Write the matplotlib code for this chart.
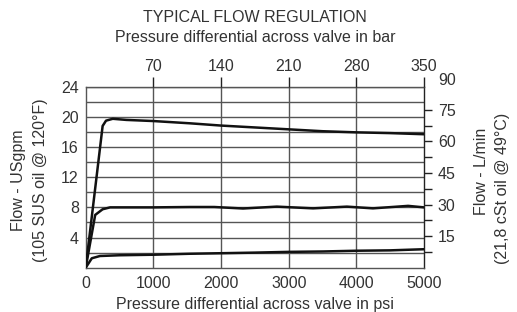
import matplotlib
matplotlib.use("Agg")
import matplotlib.pyplot as plt
import matplotlib.transforms as mtransforms

plt.rcParams['font.family'] = ['Liberation Sans', 'DejaVu Sans']

# --- data (psi, USgpm) ---
high_psi = [0, 250, 300, 400, 600, 1000, 1540, 2000, 2500, 3000, 3500, 4000, 4500, 5000]
high_gpm = [0, 18.8, 19.5, 19.75, 19.6, 19.45, 19.15, 18.85, 18.6, 18.35, 18.1, 17.95, 17.85, 17.7]

mid_psi = [0, 140, 250, 360, 600, 1000, 1540, 1900, 2325, 2825, 3360, 3860, 4245, 4765, 5000]
mid_gpm = [0, 7.0, 7.75, 8.0, 8.0, 8.0, 8.05, 8.05, 7.85, 8.1, 7.87, 8.1, 7.87, 8.2, 8.0]

low_psi = [0, 90, 210, 500, 1000, 1540, 2000, 2500, 3000, 3500, 4000, 4500, 5000]
low_gpm = [0, 1.25, 1.55, 1.65, 1.72, 1.85, 1.92, 2.0, 2.1, 2.15, 2.25, 2.3, 2.45]

psi_ticks = [0, 1000, 2000, 3000, 4000, 5000]
bar_ticks = [70, 140, 210, 280, 350]
gpm_ticks = [4, 8, 12, 16, 20, 24]
gpm_grid = list(range(2, 25, 2))
lpm_major = [15, 30, 45, 60, 75]
lpm_minor = [7.5, 22.5, 37.5, 52.5, 67.5]
lpm_top_label = 90

text_color = '#333333'
grid_color = '#555555'
fs = 11.5

fig = plt.figure(figsize=(5.17, 3.12), dpi=100)
ax = fig.add_axes([0.1658, 0.142, 0.6544, 0.580])

ax.set_xlim(0, 5000)
ax.set_ylim(0, 24)

for v in gpm_grid:
    ax.axhline(v, color=grid_color, lw=1.0, zorder=1)
for v in psi_ticks[1:-1]:
    ax.axvline(v, color=grid_color, lw=1.0, zorder=1)

for xs, ys in [(high_psi, high_gpm), (mid_psi, mid_gpm), (low_psi, low_gpm)]:
    ax.plot(xs, ys, color='#111111', lw=1.8, zorder=3, solid_joinstyle='round')

ax.set_xticks(psi_ticks)
ax.set_xticklabels([str(t) for t in psi_ticks])
ax.set_yticks(gpm_ticks)
ax.set_yticklabels([str(t) for t in gpm_ticks])
ax.tick_params(axis='both', length=0, labelsize=fs, colors=text_color, pad=5)
ax.tick_params(axis='x', pad=6)
for s in ax.spines.values():
    s.set_color(grid_color)
    s.set_linewidth(1.0)
ax.spines['right'].set_color('#222222')

ax.set_xlabel('Pressure differential across valve in psi', fontsize=fs, color=text_color, labelpad=4)

# top bar axis
axt = ax.twiny()
axt.set_xlim(0, 350)
axt.set_xticks(bar_ticks)
axt.set_xticklabels([str(t) for t in bar_ticks])
axt.tick_params(axis='x', direction='out', length=7, width=1.0, color='#222222',
                labelsize=fs, labelcolor=text_color, pad=2)
for s in axt.spines.values():
    s.set_visible(False)

# right L/min axis
axr = ax.twinx()
lpm_top = 24 * 3.58
axr.set_ylim(0, lpm_top)
axr.set_yticks(lpm_major)
axr.set_yticks(lpm_minor, minor=True)
axr.set_yticklabels([str(t) for t in lpm_major])
axr.tick_params(axis='y', which='both', direction='out', length=6, width=1.0,
                color='#222222', labelsize=fs, labelcolor=text_color, pad=4)
for s in axr.spines.values():
    s.set_visible(False)
axr.text(1.0, lpm_top_label, str(lpm_top_label),
         transform=axr.get_yaxis_transform() + mtransforms.ScaledTranslation(14/100, -2/100, fig.dpi_scale_trans),
         ha='left', va='center', fontsize=fs, color=text_color, clip_on=False)

# labels
fig.text(19/517, 1 - 180/312, 'Flow - USgpm', rotation=90, ha='center', va='center',
         fontsize=fs, color=text_color)
fig.text(41/517, 1 - 180/312, '(105 SUS oil @ 120°F)', rotation=90, ha='center', va='center',
         fontsize=fs, color=text_color)
fig.text(482/517, 1 - 171/312, 'Flow - L/min', rotation=90, ha='center', va='center',
         fontsize=fs, color=text_color)
fig.text(502/517, 1 - 188/312, '(21,8 cSt oil @ 49°C)', rotation=90, ha='center', va='center',
         fontsize=fs, color=text_color)

fig.text(255/517, 1 - 17/312, 'TYPICAL FLOW REGULATION', ha='center', va='center',
         fontsize=fs, color=text_color)
fig.text(255/517, 1 - 38/312, 'Pressure differential across valve in bar', ha='center', va='center',
         fontsize=fs, color=text_color)

fig.savefig('out.png', dpi=100)
